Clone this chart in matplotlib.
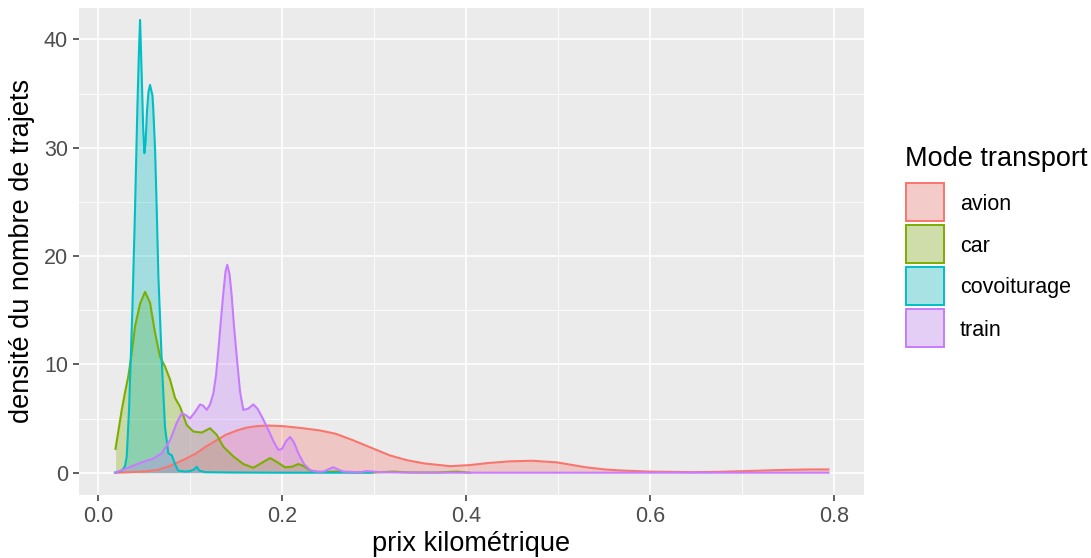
import matplotlib
matplotlib.use("Agg")
import matplotlib.pyplot as plt
from matplotlib.patches import Rectangle
import numpy as np

plt.rcParams['font.family'] = ['Liberation Sans', 'DejaVu Sans']

# Density estimates of price per km, by transport mode
avion_x = [0.0185, 0.035, 0.051, 0.064, 0.074, 0.0855, 0.0957, 0.107, 0.117, 0.129,
           0.139, 0.151, 0.161, 0.1725, 0.185, 0.201, 0.223, 0.241, 0.258, 0.277,
           0.297, 0.317, 0.336, 0.355, 0.383, 0.404, 0.425, 0.448, 0.472, 0.499,
           0.530, 0.551, 0.569, 0.600, 0.647, 0.676, 0.704, 0.743, 0.774, 0.794]
avion_y = [0.0, 0.05, 0.12, 0.25, 0.5, 0.9, 1.3, 1.8, 2.4, 3.0,
           3.5, 3.9, 4.15, 4.3, 4.35, 4.3, 4.1, 3.9, 3.6, 3.0,
           2.3, 1.6, 1.15, 0.85, 0.6, 0.7, 0.9, 1.05, 1.1, 0.95,
           0.5, 0.3, 0.2, 0.1, 0.05, 0.08, 0.15, 0.25, 0.3, 0.3]

car_x = [0.019, 0.0258, 0.0293, 0.0329, 0.0366, 0.0402, 0.0457, 0.0511, 0.0565, 0.062,
         0.0674, 0.0728, 0.0783, 0.0837, 0.0891, 0.0964, 0.1036, 0.1127, 0.1217, 0.129,
         0.1362, 0.1471, 0.1579, 0.1688, 0.1779, 0.187, 0.1942, 0.2033, 0.2109, 0.2177,
         0.2239, 0.2304, 0.2413, 0.2576, 0.274, 0.30, 0.3207, 0.339, 0.37, 0.39, 0.404]
car_y = [2.2, 5.8, 7.4, 8.9, 11.0, 13.5, 15.6, 16.7, 15.7, 12.9,
         10.7, 9.8, 8.6, 6.9, 6.1, 4.4, 3.8, 3.7, 4.1, 3.5,
         2.4, 1.5, 0.8, 0.45, 0.9, 1.35, 1.0, 0.5, 0.55, 0.8,
         0.6, 0.2, 0.05, 0.1, 0.05, 0.02, 0.1, 0.02, 0.02, 0.1, 0.0]

covoiturage_x = [0.0185, 0.0261, 0.0293, 0.0312, 0.0337, 0.0373, 0.0402, 0.0427, 0.0443, 0.0457,
                 0.0475, 0.049, 0.0504, 0.0517, 0.0533, 0.0549, 0.0565, 0.0592, 0.0601, 0.062,
                 0.0638, 0.0656, 0.0692, 0.0728, 0.0764, 0.0801, 0.0837, 0.087, 0.0946, 0.100,
                 0.1043, 0.1073, 0.1098, 0.1163, 0.1435, 0.20, 0.25, 0.298]
covoiturage_y = [0.0, 0.2, 0.6, 1.5, 5.8, 15.0, 24.3, 33.5, 38.5, 41.8,
                 36.6, 32.0, 29.5, 30.5, 33.5, 35.2, 35.8, 34.8, 33.5, 29.8,
                 24.3, 18.1, 10.4, 4.2, 1.8, 1.6, 0.8, 0.2, 0.1, 0.15,
                 0.3, 0.55, 0.2, 0.05, 0.02, 0.0, 0.0, 0.0]

train_x = [0.0185, 0.0312, 0.0457, 0.0601, 0.0692, 0.0783, 0.0855, 0.091, 0.0957, 0.100,
           0.1054, 0.1109, 0.1141, 0.1182, 0.1217, 0.1253, 0.1283, 0.1308, 0.1337, 0.1362,
           0.1386, 0.1405, 0.143, 0.1453, 0.1478, 0.1508, 0.1543, 0.1579, 0.163, 0.1688,
           0.1734, 0.1779, 0.1826, 0.187, 0.1913, 0.196, 0.200, 0.2043, 0.2087, 0.213,
           0.2177, 0.2239, 0.2304, 0.237, 0.2449, 0.250, 0.2558, 0.261, 0.2666, 0.285,
           0.292, 0.3065, 0.328, 0.40, 0.50, 0.60, 0.70, 0.794]
train_y = [0.0, 0.4, 0.9, 1.3, 1.8, 3.0, 4.6, 5.5, 5.3, 5.0,
           5.6, 6.3, 6.2, 5.8, 6.3, 7.3, 9.0, 11.3, 14.2, 16.6,
           18.6, 19.2, 18.3, 16.3, 13.5, 10.7, 7.5, 5.8, 5.9, 6.3,
           5.9, 5.2, 4.4, 3.6, 2.8, 2.1, 2.2, 2.9, 3.3, 2.8,
           1.8, 0.8, 0.25, 0.1, 0.1, 0.3, 0.5, 0.3, 0.1, 0.05,
           0.15, 0.05, 0.02, 0.0, 0.0, 0.0, 0.0, 0.0]

modes = ["avion", "car", "covoiturage", "train"]
series_x = [avion_x, car_x, covoiturage_x, train_x]
series_y = [avion_y, car_y, covoiturage_y, train_y]
colors = ["#F8766D", "#7CAE00", "#00BFC4", "#C77CFF"]

x_ticks = [0.0, 0.2, 0.4, 0.6, 0.8]
x_ticklabels = ["0.0", "0.2", "0.4", "0.6", "0.8"]
y_ticks = [0, 10, 20, 30, 40]

W, H = 1091, 558
fig = plt.figure(figsize=(W / 100, H / 100), dpi=100)
fig.patch.set_facecolor("white")

# panel placement in pixels
pl, pr, pt, pb = 79, 864, 8, 495
ax = fig.add_axes([pl / W, 1 - pb / H, (pr - pl) / W, (pb - pt) / H])
ax.set_facecolor("#EBEBEB")
for s in ax.spines.values():
    s.set_visible(False)

ax.set_xlim(-0.0207, 0.8326)
ax.set_ylim(-2.06, 42.9)

ax.set_xticks(x_ticks)
ax.set_xticklabels(x_ticklabels)
ax.set_yticks(y_ticks)
ax.set_xticks([0.1, 0.3, 0.5, 0.7], minor=True)
ax.set_yticks([5, 15, 25, 35], minor=True)
ax.grid(which="major", color="white", lw=1.2)
ax.grid(which="minor", color="white", lw=0.6)
ax.set_axisbelow(True)
ax.tick_params(which="major", length=4, width=1.1, color="#333333",
               labelsize=15.5, labelcolor="#4D4D4D", pad=4)
ax.tick_params(which="minor", length=0)

for xs, ys, c in zip(series_x, series_y, colors):
    ax.fill_between(xs, 0, ys, color=c, alpha=0.3, lw=0)
    ax.plot(xs, ys, color=c, lw=1.5, solid_joinstyle="round")

fig.text(22 / W, 1 - 251 / H, "densité du nombre de trajets", rotation=90,
         ha="center", va="center", fontsize=19.5, color="black")
fig.text(471 / W, 1 - 544 / H, "prix kilométrique",
         ha="center", va="center", fontsize=19.5, color="black")

# legend
fig.text(905 / W, 1 - 159 / H, "Mode transport", ha="left", va="center",
         fontsize=19.5, color="black")
key_tops = [182, 224, 266, 308]
for lab, c, top in zip(modes, colors, key_tops):
    bg = Rectangle((905 / W, 1 - (top + 40) / H), 40 / W, 40 / H,
                   transform=fig.transFigure, facecolor="#F2F2F2", edgecolor="none")
    fig.add_artist(bg)
    key = Rectangle((906 / W, 1 - (top + 39) / H), 38 / W, 38 / H,
                    transform=fig.transFigure, facecolor=c, alpha=0.3, edgecolor="none")
    fig.add_artist(key)
    edge = Rectangle((906 / W, 1 - (top + 39) / H), 38 / W, 38 / H,
                     transform=fig.transFigure, facecolor="none", edgecolor=c, lw=1.4)
    fig.add_artist(edge)
    fig.text(960 / W, 1 - (top + 22) / H, lab, ha="left", va="center",
             fontsize=15.5, color="black")

fig.savefig("out.png", dpi=100)
